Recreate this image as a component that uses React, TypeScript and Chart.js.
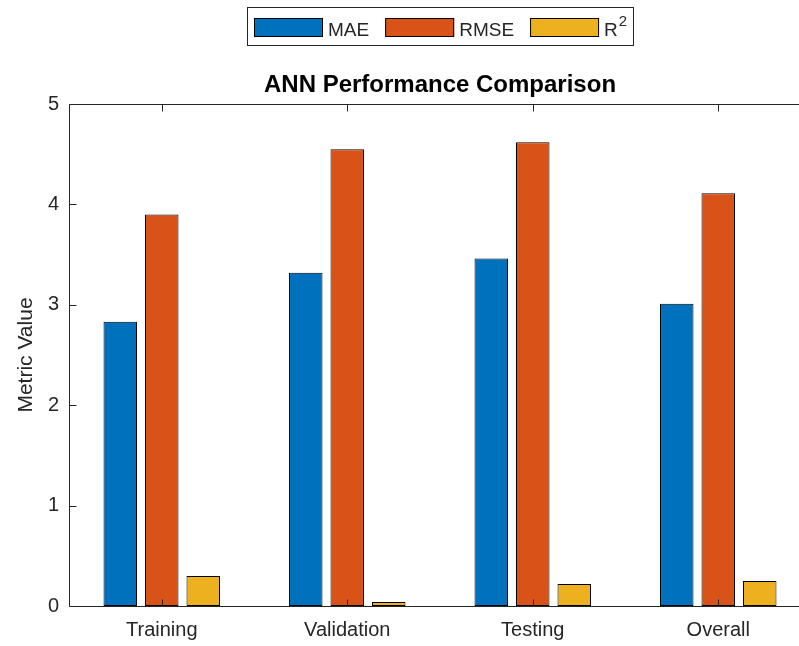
import React, { useEffect, useRef } from 'react';
import { Chart, registerables } from 'chart.js';

Chart.register(...registerables);

const categories = ['Training', 'Validation', 'Testing', 'Overall'];
const maeValues = [2.83, 3.32, 3.46, 3.01];
const rmseValues = [3.9, 4.55, 4.62, 4.11];
const r2Values = [0.3, 0.04, 0.22, 0.25];
const seriesLabels = ['MAE', 'RMSE', 'R²'];
const seriesColors = ['#0072BD', '#D95319', '#EDB120'];
const yTickValues = [0, 1, 2, 3, 4, 5];
const chartTitle = 'ANN Performance Comparison';
const yAxisTitle = 'Metric Value';

const FONT = '"Liberation Sans", Arial, Helvetica, sans-serif';
const AXIS_COLOR = '#262626';

const axesPlugin = {
  id: 'matlabAxes',
  afterDatasetsDraw(chart: any) {
    const { ctx, chartArea, scales } = chart;
    const L = Math.round(chartArea.left) + 0.5;
    const R = Math.round(chartArea.right) - 0.5;
    const T = Math.round(chartArea.top) + 0.5;
    const B = Math.round(chartArea.bottom) + 0.5;
    const tl = 7;
    ctx.save();
    ctx.strokeStyle = AXIS_COLOR;
    ctx.lineWidth = 1;
    ctx.beginPath();
    ctx.moveTo(L, T); ctx.lineTo(R, T); ctx.lineTo(R, B); ctx.lineTo(L, B); ctx.closePath();
    yTickValues.forEach((v) => {
      const py = Math.round(scales.y.getPixelForValue(v)) + 0.5;
      ctx.moveTo(L, py); ctx.lineTo(L + tl, py);
      ctx.moveTo(R, py); ctx.lineTo(R - tl, py);
    });
    categories.forEach((_, i) => {
      const px = Math.round(scales.x.getPixelForValue(i)) + 0.5;
      ctx.moveTo(px, B); ctx.lineTo(px, B - tl);
      ctx.moveTo(px, T); ctx.lineTo(px, T + tl);
    });
    ctx.stroke();
    ctx.restore();
  },
};

const legendPlugin = {
  id: 'matlabLegend',
  afterDraw(chart: any) {
    const { ctx, chartArea } = chart;
    const datasets = chart.data.datasets;
    const fontSize = 19;
    const supSize = 15;
    const swW = 69;
    const swH = 19;
    const padL = 7;
    const padR = 6;
    const gapText = 5;
    const gapItem = 16;
    ctx.save();
    const items = datasets.map((ds: any) => {
      const label: string = ds.label;
      const hasSup = label.includes('²');
      const base = label.replace('²', '');
      ctx.font = `${fontSize}px ${FONT}`;
      const w = ctx.measureText(base).width;
      let supW = 0;
      if (hasSup) {
        ctx.font = `${supSize}px ${FONT}`;
        supW = ctx.measureText('2').width + 1;
      }
      return { base, hasSup, w: w + supW, baseW: w, color: ds.backgroundColor };
    });
    let total = padL + padR;
    items.forEach((it: any, i: number) => {
      total += swW + gapText + it.w;
      if (i < items.length - 1) total += gapItem;
    });
    total = Math.round(total);
    const cx = (chartArea.left + chartArea.right) / 2;
    const boxL = Math.round(cx - total / 2) + 0.5;
    const boxT = 7.5;
    const boxH = 38;
    ctx.fillStyle = '#ffffff';
    ctx.fillRect(boxL, boxT, total, boxH);
    ctx.strokeStyle = AXIS_COLOR;
    ctx.lineWidth = 1;
    ctx.strokeRect(boxL, boxT, total, boxH);
    let x = boxL + padL - 0.5;
    const swT = 18;
    const baseline = 36;
    items.forEach((it: any) => {
      ctx.fillStyle = it.color;
      ctx.fillRect(x, swT, swW, swH);
      ctx.strokeStyle = '#000';
      ctx.strokeRect(x + 0.5, swT + 0.5, swW - 1, swH - 1);
      x += swW + gapText;
      ctx.fillStyle = AXIS_COLOR;
      ctx.textBaseline = 'alphabetic';
      ctx.textAlign = 'left';
      ctx.font = `${fontSize}px ${FONT}`;
      ctx.fillText(it.base, x, baseline);
      if (it.hasSup) {
        ctx.font = `${supSize}px ${FONT}`;
        ctx.fillText('2', x + it.baseW + 1, baseline - 10.5);
      }
      x += it.w + gapItem;
    });
    ctx.restore();
  },
};

export default function App() {
  const canvasRef = useRef<HTMLCanvasElement | null>(null);

  useEffect(() => {
    document.body.style.margin = '0';
    document.body.style.overflow = 'hidden';
    const canvas = canvasRef.current;
    if (!canvas) return;
    const values = [maeValues, rmseValues, r2Values];
    const chart = new Chart(canvas, {
      type: 'bar',
      data: {
        labels: categories,
        datasets: values.map((vals, i) => ({
          label: seriesLabels[i],
          data: vals,
          backgroundColor: seriesColors[i],
          borderColor: '#000000',
          borderWidth: 1,
          borderSkipped: false,
          categoryPercentage: 0.671,
          barPercentage: 0.807,
        })),
      },
      options: {
        responsive: false,
        animation: false,
        devicePixelRatio: 1,
        layout: { padding: { top: 50, right: 19, bottom: 0, left: 0 } },
        plugins: {
          legend: { display: false },
          tooltip: { enabled: false },
          title: {
            display: true,
            text: chartTitle,
            fullSize: false,
            color: '#000000',
            font: { family: FONT, size: 24, weight: 'bold' },
            padding: { top: 21, bottom: 4.2 },
          },
        },
        scales: {
          x: {
            type: 'category',
            grid: { display: false, drawTicks: false },
            border: { display: false },
            ticks: { color: AXIS_COLOR, padding: 12, font: { family: FONT, size: 20 } },
            afterFit: (scale: any) => { scale.height = 40; },
          },
          y: {
            min: 0,
            max: 5,
            grid: { display: false, drawTicks: false },
            border: { display: false },
            ticks: { stepSize: 1, color: AXIS_COLOR, padding: 10, font: { family: FONT, size: 20 } },
            title: {
              display: true,
              text: yAxisTitle,
              color: AXIS_COLOR,
              font: { family: FONT, size: 21 },
              padding: { top: 14, bottom: 0 },
            },
            afterFit: (scale: any) => { scale.width = 69; },
          },
        },
      },
      plugins: [axesPlugin, legendPlugin],
    });
    return () => chart.destroy();
  }, []);

  return (
    <div style={{ position: 'fixed', left: 0, top: 0, width: 799, height: 646, overflow: 'hidden', background: '#ffffff' }}>
      <canvas ref={canvasRef} width={830} height={646} style={{ display: 'block', width: 830, height: 646 }} />
    </div>
  );
}
